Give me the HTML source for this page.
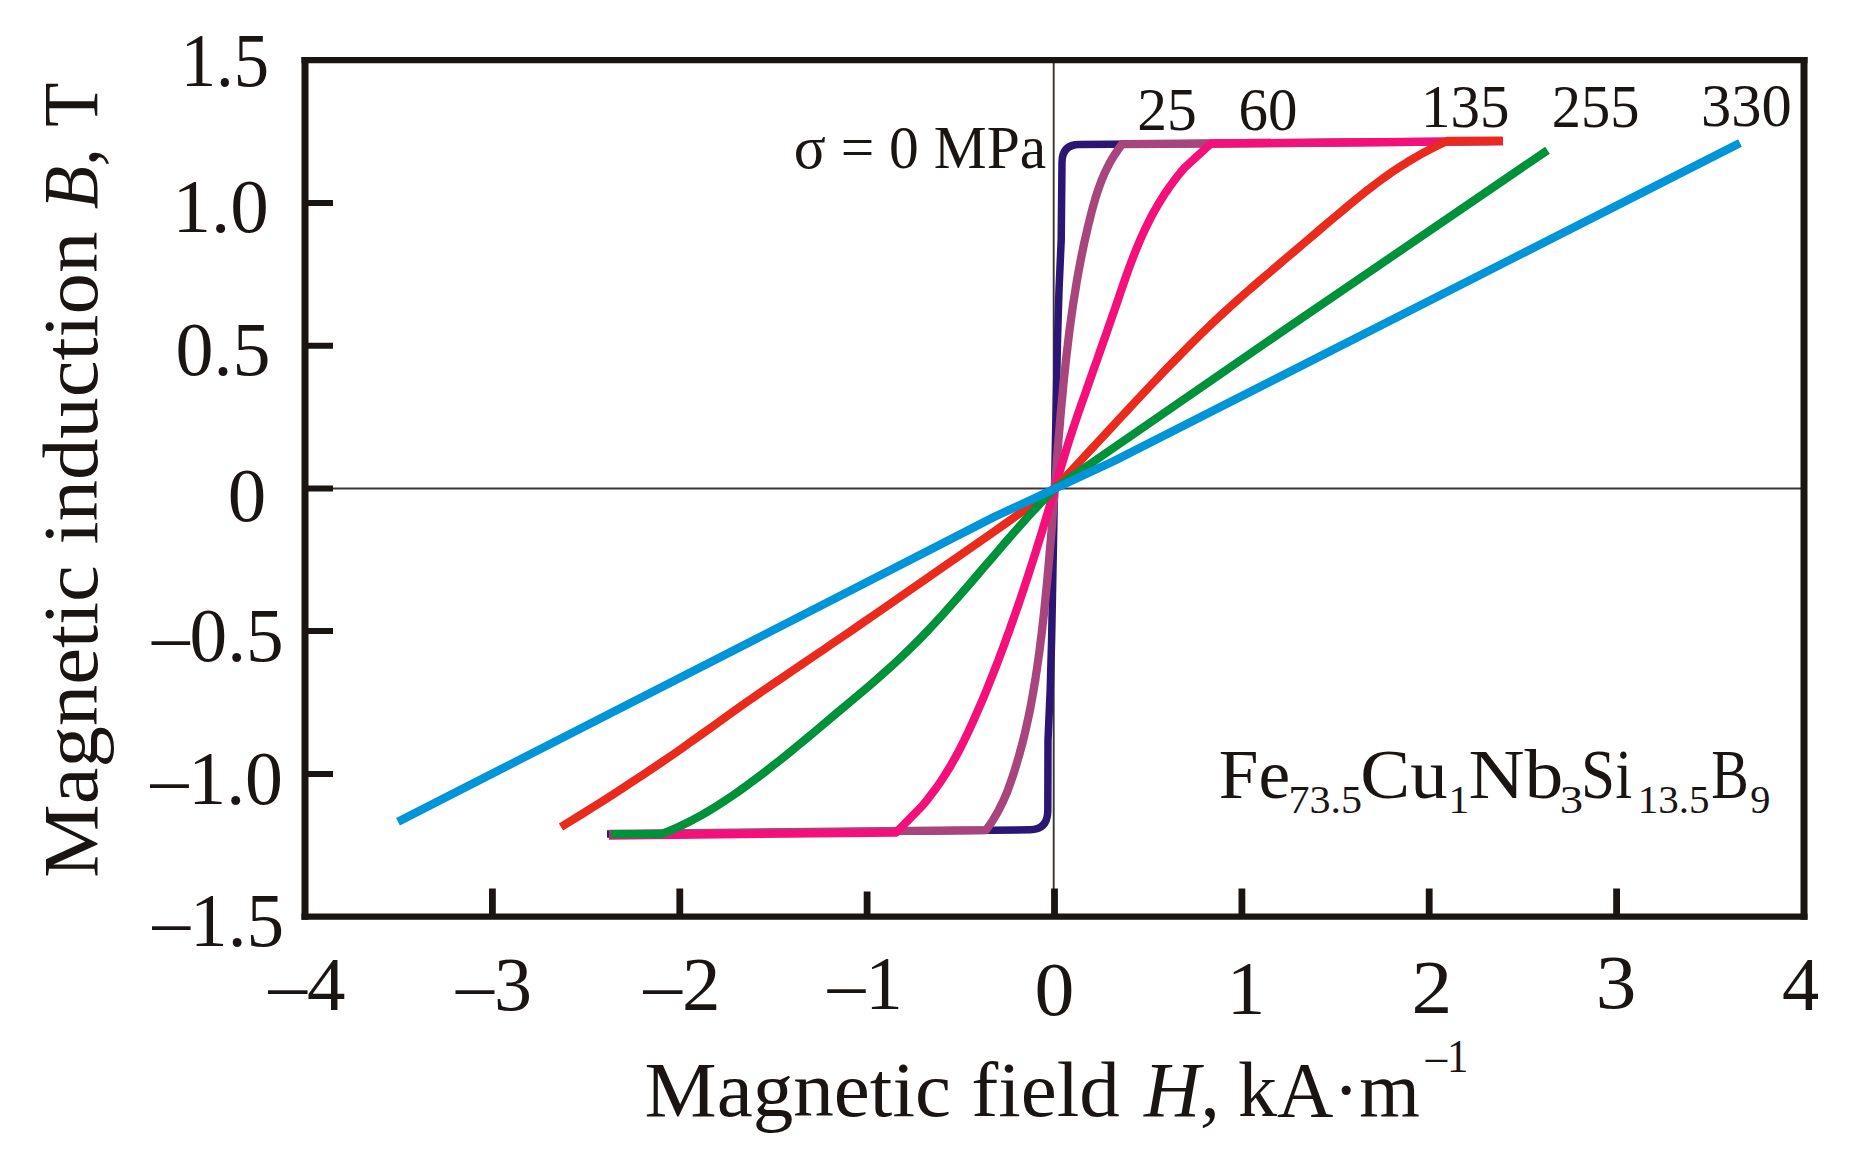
<!DOCTYPE html>
<html lang="en"><head><meta charset="utf-8"><title>Magnetic induction B versus magnetic field H</title>
<style>html,body{margin:0;padding:0;background:#fff}svg{display:block}text{font-family:"Liberation Serif", serif;fill:#1a1512;white-space:pre}</style>
</head><body>
<svg width="1872" height="1160" viewBox="0 0 1872 1160">
<rect width="1872" height="1160" fill="#fff"/>
<defs><clipPath id="page"><rect x="0" y="0" width="1818" height="1136"/></clipPath></defs>
<g clip-path="url(#page)">
<g stroke="#3b3633" stroke-width="1.9" fill="none">
<line x1="305.0" y1="488.5" x2="1804.0" y2="488.5"/>
<line x1="1053.7" y1="60.2" x2="1053.7" y2="916.6"/>
</g>
<g fill="none" stroke-width="8.3" stroke-linejoin="round" stroke-linecap="butt">
<path stroke="#2b1673" stroke-width="7.5" d="M607 834.0 L1030 829.8 Q1047.4 829.6 1047.8 811 L1048 740 L1050.2 690 L1051.6 640 L1054.5 488.6 L1057.5 340 L1059 290 L1061.2 240 L1062 162 Q1062.4 144.7 1079 144.6 L1503 141.2"/>
<path stroke="#a8457d" d="M609 834.0 L986.0 830.2 L989.6 825.2 L992.9 820.2 L995.9 815.2 L998.7 810.2 L1001.2 805.2 L1003.6 800.2 L1005.8 795.2 L1007.8 790.2 L1009.6 785.2 L1011.4 780.2 L1013.1 775.2 L1014.7 770.2 L1016.2 765.1 L1017.7 760.1 L1019.2 755.1 L1020.5 750.1 L1021.9 745.1 L1023.2 740.1 L1024.4 735.1 L1025.6 730.1 L1026.7 725.1 L1027.8 720.1 L1028.9 715.1 L1029.9 710.1 L1030.9 705.1 L1031.8 700.0 L1032.7 695.0 L1033.6 690.0 L1034.4 685.0 L1035.3 680.0 L1036.0 675.0 L1036.8 670.0 L1037.5 665.0 L1038.2 660.0 L1038.9 655.0 L1039.6 650.0 L1040.2 645.0 L1040.8 640.0 L1041.5 635.0 L1042.1 629.9 L1042.6 624.9 L1043.2 619.9 L1043.8 614.9 L1044.3 609.9 L1044.8 604.9 L1045.3 599.9 L1045.8 594.9 L1046.3 589.9 L1046.8 584.9 L1047.3 579.9 L1047.7 574.9 L1048.2 569.9 L1048.6 564.9 L1049.1 559.8 L1049.5 554.8 L1049.9 549.8 L1050.3 544.8 L1050.8 539.8 L1051.2 534.8 L1051.6 529.8 L1052.0 524.8 L1052.3 519.8 L1052.7 514.8 L1053.1 509.8 L1053.5 504.8 L1053.9 499.8 L1054.3 494.8 L1054.6 489.7 L1055.0 484.7 L1055.4 479.7 L1055.8 474.7 L1056.2 469.7 L1056.6 464.7 L1056.9 459.7 L1057.3 454.7 L1057.7 449.7 L1058.1 444.7 L1058.5 439.7 L1058.9 434.7 L1059.4 429.7 L1059.8 424.7 L1060.2 419.6 L1060.6 414.6 L1061.1 409.6 L1061.5 404.6 L1062.0 399.6 L1062.5 394.6 L1062.9 389.6 L1063.4 384.6 L1063.9 379.6 L1064.4 374.6 L1065.0 369.6 L1065.5 364.6 L1066.0 359.6 L1066.6 354.6 L1067.2 349.5 L1067.8 344.5 L1068.4 339.5 L1069.0 334.5 L1069.6 329.5 L1070.3 324.5 L1071.0 319.5 L1071.7 314.5 L1072.4 309.5 L1073.1 304.5 L1073.9 299.5 L1074.7 294.5 L1075.5 289.5 L1076.3 284.5 L1077.1 279.4 L1078.0 274.4 L1078.9 269.4 L1079.9 264.4 L1080.8 259.4 L1081.8 254.4 L1082.9 249.4 L1083.9 244.4 L1085.0 239.4 L1086.2 234.4 L1087.3 229.4 L1088.5 224.4 L1089.8 219.4 L1091.0 214.3 L1092.3 209.3 L1093.7 204.3 L1095.1 199.3 L1096.7 194.3 L1098.3 189.3 L1100.1 184.3 L1102.0 179.3 L1104.1 174.3 L1106.5 169.3 L1109.0 164.3 L1111.8 159.3 L1114.9 154.3 L1118.3 149.3 L1122.0 144.2 L1503 141.2"/>
<path stroke="#f3107a" d="M609 835.5 L896 832.6 L922.0 806.2 L926.2 801.2 L930.1 796.1 L933.9 791.1 L937.5 786.1 L941.0 781.1 L944.3 776.0 L947.4 771.0 L950.5 766.0 L953.4 760.9 L956.2 755.9 L958.9 750.9 L961.4 745.9 L964.0 740.8 L966.4 735.8 L968.8 730.8 L971.1 725.7 L973.4 720.7 L975.6 715.7 L977.8 710.6 L980.0 705.6 L982.2 700.6 L984.3 695.6 L986.4 690.5 L988.4 685.5 L990.4 680.5 L992.4 675.4 L994.4 670.4 L996.4 665.4 L998.3 660.4 L1000.2 655.3 L1002.1 650.3 L1004.0 645.3 L1005.8 640.2 L1007.6 635.2 L1009.5 630.2 L1011.2 625.2 L1013.0 620.1 L1014.8 615.1 L1016.5 610.1 L1018.3 605.0 L1020.0 600.0 L1021.7 595.0 L1023.4 589.9 L1025.0 584.9 L1026.7 579.9 L1028.3 574.9 L1030.0 569.8 L1031.6 564.8 L1033.2 559.8 L1034.8 554.7 L1036.4 549.7 L1037.9 544.7 L1039.5 539.7 L1041.1 534.6 L1042.6 529.6 L1044.1 524.6 L1045.6 519.5 L1047.2 514.5 L1048.7 509.5 L1050.2 504.5 L1051.6 499.4 L1053.1 494.4 L1054.6 489.4 L1056.1 484.3 L1057.5 479.3 L1059.0 474.3 L1060.4 469.2 L1061.9 464.2 L1063.4 459.2 L1064.9 454.2 L1066.5 449.1 L1068.0 444.1 L1069.6 439.1 L1071.3 434.0 L1072.9 429.0 L1074.6 424.0 L1076.3 419.0 L1078.0 413.9 L1079.8 408.9 L1081.5 403.9 L1083.3 398.8 L1085.1 393.8 L1086.8 388.8 L1088.6 383.8 L1090.4 378.7 L1092.2 373.7 L1093.9 368.7 L1095.7 363.6 L1097.5 358.6 L1099.2 353.6 L1101.0 348.5 L1102.8 343.5 L1104.6 338.5 L1106.3 333.5 L1108.1 328.4 L1109.8 323.4 L1111.6 318.4 L1113.3 313.3 L1115.1 308.3 L1116.8 303.3 L1118.5 298.3 L1120.2 293.2 L1122.0 288.2 L1123.7 283.2 L1125.4 278.1 L1127.2 273.1 L1129.0 268.1 L1130.9 263.1 L1132.8 258.0 L1134.8 253.0 L1136.8 248.0 L1138.9 242.9 L1141.1 237.9 L1143.3 232.9 L1145.7 227.8 L1148.2 222.8 L1150.7 217.8 L1153.4 212.8 L1156.3 207.7 L1159.2 202.7 L1162.3 197.7 L1165.6 192.6 L1169.0 187.6 L1172.7 182.6 L1176.5 177.6 L1180.5 172.5 L1184.8 167.5 L1211 143.5 L1503 141.2"/>
<path stroke="#ea2a1d" d="M561.0 827.0 L571.1 820.8 L581.1 814.6 L591.2 808.3 L601.3 801.9 L611.4 795.4 L621.4 788.9 L631.5 782.3 L641.6 775.7 L651.6 769.0 L661.7 762.2 L671.8 755.4 L681.9 748.4 L691.9 741.2 L702.0 734.0 L712.1 726.8 L722.1 719.6 L732.2 712.4 L742.3 705.2 L752.4 698.2 L762.4 691.2 L772.5 684.3 L782.6 677.5 L792.6 670.6 L802.7 663.8 L812.8 656.9 L822.9 650.1 L832.9 643.2 L843.0 636.4 L853.1 629.5 L863.1 622.5 L873.2 615.6 L883.3 608.6 L893.4 601.6 L903.4 594.6 L913.5 587.6 L923.6 580.6 L933.6 573.6 L943.7 566.6 L953.8 559.6 L963.9 552.6 L973.9 545.6 L984.0 538.6 L994.1 531.6 L1004.1 524.5 L1014.2 517.4 L1024.3 510.2 L1034.4 503.0 L1044.4 495.8 L1054.5 488.6 L1062.5 480.1 L1070.5 471.6 L1078.5 463.0 L1086.5 454.3 L1094.6 445.7 L1102.6 437.0 L1110.6 428.4 L1118.6 419.7 L1126.6 411.1 L1134.6 402.5 L1142.6 394.0 L1150.6 385.5 L1158.6 377.1 L1166.6 368.7 L1174.7 360.5 L1182.7 352.3 L1190.7 344.3 L1198.7 336.4 L1206.7 328.6 L1214.7 321.0 L1222.7 313.6 L1230.7 306.3 L1238.7 299.1 L1246.7 292.0 L1254.8 285.0 L1262.8 278.1 L1270.8 271.3 L1278.8 264.5 L1286.8 257.7 L1294.8 251.0 L1302.8 244.2 L1310.8 237.4 L1318.8 230.5 L1326.8 223.7 L1334.9 216.9 L1342.9 210.2 L1350.9 203.5 L1358.9 197.0 L1366.9 190.6 L1374.9 184.5 L1382.9 178.5 L1390.9 172.8 L1398.9 167.5 L1406.9 162.4 L1415.0 157.6 L1423.0 153.0 L1431.0 148.8 L1439.0 144.8 L1447.0 141.0 L1502.5 140.6"/>
<path stroke="#00913b" d="M610.6 834.2 L661.0 834.2 L669.0 831.1 L677.1 827.6 L685.1 823.8 L693.1 819.7 L701.2 815.3 L709.2 810.6 L717.2 805.7 L725.2 800.5 L733.3 795.1 L741.3 789.5 L749.3 783.7 L757.4 777.7 L765.4 771.6 L773.4 765.3 L781.5 759.0 L789.5 752.5 L797.5 745.9 L805.6 739.2 L813.6 732.6 L821.6 725.8 L829.6 719.1 L837.7 712.3 L845.7 705.6 L853.7 698.9 L861.8 692.1 L869.8 685.3 L877.8 678.3 L885.9 671.2 L893.9 664.0 L901.9 656.5 L909.9 648.8 L918.0 640.8 L926.0 632.5 L934.0 624.0 L942.1 615.2 L950.1 606.3 L958.1 597.2 L966.2 588.0 L974.2 578.7 L982.2 569.3 L990.3 560.0 L998.3 550.6 L1006.3 541.3 L1014.3 532.1 L1022.4 523.0 L1030.4 514.1 L1038.4 505.4 L1046.5 496.9 L1054.5 488.6 L1283.6 330.5 L1547.5 150.2"/>
<path stroke="#0094d9" d="M398 821.7 L754 640 L994 517 L1114 461 L1740 143"/>
</g>
<g stroke="#1a1512" fill="none">
<path stroke-width="6.2" d="M301.5 60.2 H1807.5 M301.5 916.6 H1807.5"/>
<path stroke-width="7.0" d="M305.0 57.1 V919.7 M1804.0 57.1 V919.7"/>
<path stroke-width="6" d="M305.0 202.9 H333 M305.0 345.7 H333 M305.0 488.4 H333 M305.0 631.1 H333 M305.0 773.9 H333"/>
<path stroke-width="6.8" d="M492.4 916.6 V888.5 M679.8 916.6 V888.5 M867.1 916.6 V891.5 M1054.5 916.6 V888.5 M1241.9 916.6 V888.5 M1429.2 916.6 V888.5 M1616.6 916.6 V888.5"/>
</g>
<g>
<text id="y15" x="180.70" y="86.00" font-size="77.00" textLength="88.28" lengthAdjust="spacingAndGlyphs">1.5</text>
<text id="y10" x="172.51" y="232.40" font-size="77.00">1.0</text>
<text id="y05" x="175.54" y="375.20" font-size="77.00" textLength="95.07" lengthAdjust="spacingAndGlyphs">0.5</text>
<text id="y00" x="227.82" y="521.00" font-size="77.00">0</text>
<text id="ym05" x="151.98" y="660.50" font-size="77.00" textLength="131.71" lengthAdjust="spacingAndGlyphs">–0.5</text>
<text id="ym10" x="150.38" y="803.90" font-size="77.00" textLength="132.62" lengthAdjust="spacingAndGlyphs">–1.0</text>
<text id="ym15" x="152.48" y="946.00" font-size="77.00" textLength="131.61" lengthAdjust="spacingAndGlyphs">–1.5</text>
<text id="xm4" x="268.39" y="1009.60" font-size="77.00">–4</text>
<text id="xm3" x="455.99" y="1009.70" font-size="77.00" textLength="75.97" lengthAdjust="spacingAndGlyphs">–3</text>
<text id="xm2" x="643.61" y="1009.60" font-size="77.00">–2</text>
<text id="xm1" x="827.67" y="1008.80" font-size="77.00" textLength="75.02" lengthAdjust="spacingAndGlyphs">–1</text>
<text id="x0" x="1034.59" y="1014.50" font-size="77.00" textLength="39.90" lengthAdjust="spacingAndGlyphs">0</text>
<text id="x1" x="1226.70" y="1014.10" font-size="77.00">1</text>
<text id="x2" x="1411.62" y="1013.30" font-size="77.00" textLength="40.79" lengthAdjust="spacingAndGlyphs">2</text>
<text id="x3" x="1595.84" y="1007.80" font-size="77.00" textLength="40.60" lengthAdjust="spacingAndGlyphs">3</text>
<text id="x4" x="1782.01" y="1010.20" font-size="77.00" textLength="37.98" lengthAdjust="spacingAndGlyphs">4</text>
<text id="l0" x="793.73" y="168.00" font-size="60.50" textLength="252.41" lengthAdjust="spacingAndGlyphs">σ = 0 MPa</text>
<text id="l25" x="1137.13" y="129.60" font-size="60.50" textLength="59.53" lengthAdjust="spacingAndGlyphs">25</text>
<text id="l60" x="1238.45" y="129.50" font-size="60.50" textLength="58.88" lengthAdjust="spacingAndGlyphs">60</text>
<text id="l135" x="1420.92" y="127.30" font-size="60.50" textLength="88.48" lengthAdjust="spacingAndGlyphs">135</text>
<text id="l255" x="1551.77" y="126.90" font-size="60.50" textLength="87.72" lengthAdjust="spacingAndGlyphs">255</text>
<text id="l330" x="1701.02" y="126.20" font-size="60.50">330</text>
<text id="xtitle"><tspan id="xt1" x="644.52" y="1115.50" font-size="78.00" textLength="475.42" lengthAdjust="spacingAndGlyphs">Magnetic field</tspan><tspan font-size="78.00"> </tspan><tspan id="xt2" x="1144.00" y="1115.50" font-size="78.00" font-style="italic">H,</tspan><tspan font-size="78.00"> </tspan><tspan id="xt3" x="1238.01" y="1115.50" font-size="78.00">kA·m</tspan><tspan id="xt4" x="1425.64" y="1072.20" font-size="45.50" textLength="42.71" lengthAdjust="spacingAndGlyphs">–1</tspan></text>
<text id="ytitle" transform="translate(97.2 875.9) rotate(-90)"><tspan id="yt1" x="-2.12" y="0.00" font-size="78.00" textLength="646.37" lengthAdjust="spacingAndGlyphs">Magnetic induction</tspan><tspan font-size="78.00"> </tspan><tspan id="yt2" x="666.69" y="0.00" font-size="78.00" font-style="italic" textLength="60.98" lengthAdjust="spacingAndGlyphs">B,</tspan><tspan font-size="78.00"> </tspan><tspan id="yt3" x="749.07" y="0.00" font-size="78.00" textLength="44.13" lengthAdjust="spacingAndGlyphs">T</tspan></text>
<text id="formula"><tspan id="f1" x="1218.76" y="798.10" font-size="70.00" textLength="71.27" lengthAdjust="spacingAndGlyphs">Fe</tspan><tspan id="f2" x="1288.45" y="813.30" font-size="41.00" textLength="73.65" lengthAdjust="spacingAndGlyphs">73.5</tspan><tspan id="f3" x="1360.30" y="798.10" font-size="70.00" textLength="87.25" lengthAdjust="spacingAndGlyphs">Cu</tspan><tspan id="f4" x="1448.56" y="813.30" font-size="41.00" textLength="20.77" lengthAdjust="spacingAndGlyphs">1</tspan><tspan id="f5" x="1468.58" y="798.10" font-size="70.00" textLength="94.86" lengthAdjust="spacingAndGlyphs">Nb</tspan><tspan id="f6" x="1559.72" y="813.30" font-size="41.00" textLength="23.39" lengthAdjust="spacingAndGlyphs">3</tspan><tspan id="f7" x="1581.10" y="798.10" font-size="70.00" textLength="51.12" lengthAdjust="spacingAndGlyphs">Si</tspan><tspan id="f8" x="1637.69" y="813.30" font-size="41.00">13.5</tspan><tspan id="f9" x="1711.20" y="798.10" font-size="70.00" textLength="37.47" lengthAdjust="spacingAndGlyphs">B</tspan><tspan id="f10" x="1750.32" y="813.30" font-size="41.00" textLength="20.16" lengthAdjust="spacingAndGlyphs">9</tspan></text>
</g>
</g>
</svg>
</body></html>
